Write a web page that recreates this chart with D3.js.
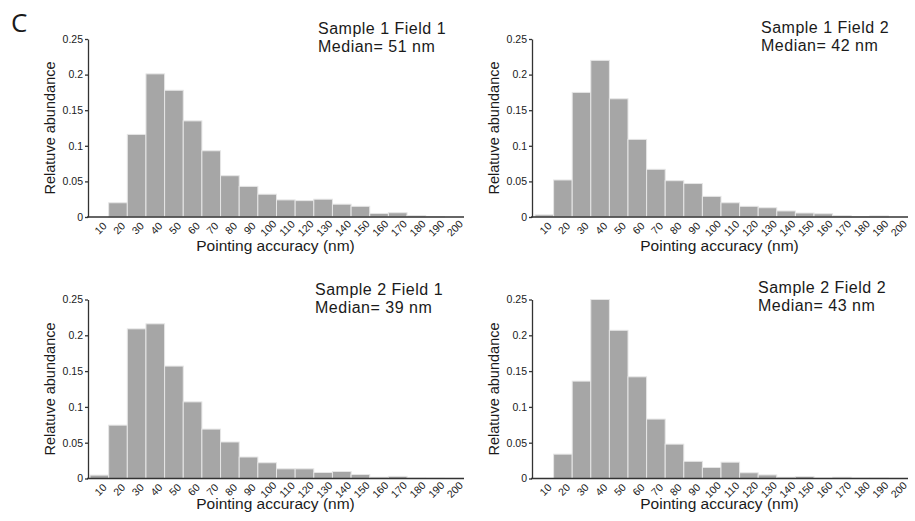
<!DOCTYPE html>
<meta charset="utf-8">
<head>
    <title>Pointing accuracy histograms</title>
    <script src="https://d3js.org/d3.v7.min.js"></script>
    <style>
        body { margin: 0; background: #ffffff; }
        text { font-family: "Liberation Sans", Arial, sans-serif; fill: #1a1a1a; }
    </style>
</head>
<body>
<div id="my_dataviz"></div>
<script>

// bin labels (nm) and tick labels of the y axis
var bins = ["10","20","30","40","50","60","70","80","90","100",
            "110","120","130","140","150","160","170","180","190","200"];
var yTicks = [0, 0.05, 0.1, 0.15, 0.2, 0.25];
var yTickLabels = ["0", "0.05", "0.1", "0.15", "0.2", "0.25"];

// relative abundance per bin
var s1f1 = [0, 0.020, 0.116, 0.201, 0.178, 0.135, 0.093, 0.058, 0.043, 0.032,
            0.024, 0.023, 0.025, 0.018, 0.015, 0.005, 0.006, 0.002, 0.0007, 0];
var s1f2 = [0.003, 0.052, 0.175, 0.220, 0.166, 0.109, 0.067, 0.051, 0.047, 0.029,
            0.020, 0.015, 0.013, 0.0085, 0.0056, 0.0046, 0.002, 0.0005, 0.0015, 0];
var s2f1 = [0.0047, 0.0745, 0.209, 0.216, 0.157, 0.107, 0.069, 0.051, 0.030, 0.022,
            0.0135, 0.0135, 0.0084, 0.0098, 0.0056, 0.0018, 0.003, 0.0005, 0.0003, 0];
var s2f2 = [0, 0.034, 0.136, 0.250, 0.207, 0.142, 0.083, 0.048, 0.024, 0.0154,
            0.0228, 0.008, 0.005, 0.0018, 0.0028, 0.0005, 0.0018, 0.0005, 0.0005, 0];

var titles = ["Sample 1 Field 1", "Sample 1 Field 2", "Sample 2 Field 1", "Sample 2 Field 2"];
var medians = ["Median= 51 nm", "Median= 42 nm", "Median= 39 nm", "Median= 43 nm"];

// panel geometry
var panels = [
    {data: s1f1, ax: 88,  x0: 90,  x1: 463, yTop: 39,    yBot: 217,   tx: 318, ty: 34, xl: 34},
    {data: s1f2, ax: 532, x0: 535, x1: 907, yTop: 39,    yBot: 217,   tx: 761, ty: 33, xl: 34},
    {data: s2f1, ax: 88,  x0: 90,  x1: 463, yTop: 299.5, yBot: 478.5, tx: 315, ty: 295, xl: 30},
    {data: s2f2, ax: 532, x0: 535, x1: 907, yTop: 299.5, yBot: 478.5, tx: 758, ty: 293, xl: 30}
];

var svg = d3.select("#my_dataviz")
    .append("svg")
    .attr("width", 915)
    .attr("height", 521);

// panel letter
svg.append("text")
    .attr("x", 11).attr("y", 32)
    .text("C")
    .style("font-family", "'Open Sans', sans-serif")
    .style("font-size", "26px");

panels.forEach(function(p, i) {
    var g = svg.append("g");

    var x = d3.scaleBand()
        .domain(bins)
        .range([p.x0, p.x1])
        .padding(0);

    var y = d3.scaleLinear()
        .domain([0, 0.25])
        .range([p.yBot, p.yTop]);

    // bars
    g.selectAll("rect")
        .data(p.data)
        .enter()
        .append("rect")
            .attr("x", function(d, j) { return x(bins[j]); })
            .attr("y", function(d) { return y(d); })
            .attr("width", x.bandwidth())
            .attr("height", function(d) { return p.yBot - y(d); })
            .style("fill", "#a6a6a6")
            .style("stroke", "#e6e6e6")
            .style("stroke-width", 1);

    // y axis
    var yAxis = g.append("g")
        .attr("transform", "translate(" + p.ax + ",0)")
        .call(d3.axisLeft(y)
            .tickValues(yTicks)
            .tickFormat(function(d, j) { return yTickLabels[j]; })
            .tickSize(3)
            .tickSizeOuter(0)
            .tickPadding(2));
    yAxis.selectAll("path, line").attr("stroke", "#333").attr("stroke-width", 1.3);
    yAxis.selectAll("text").style("font-size", "10.5px").attr("fill", "#333");

    // x axis
    var xAxis = g.append("g")
        .attr("transform", "translate(0," + p.yBot + ")")
        .call(d3.axisBottom(x).tickSize(0).tickSizeOuter(0));
    xAxis.select("path")
        .attr("d", "M" + (p.ax - 1) + ",0H" + (p.x1 + 1))
        .attr("stroke", "#333").attr("stroke-width", 1.5);
    xAxis.selectAll("text")
        .attr("y", 0).attr("dy", null)
        .attr("text-anchor", "middle")
        .attr("dominant-baseline", "central")
        .attr("transform", "translate(1,11) rotate(-45)")
        .style("font-size", "10.5px")
        .attr("fill", "#333");

    // axis labels
    g.append("text")
        .attr("text-anchor", "middle")
        .attr("x", (p.ax + p.x1) / 2)
        .attr("y", p.yBot + p.xl)
        .text("Pointing accuracy (nm)")
        .style("font-size", "15.5px");
    g.append("text")
        .attr("text-anchor", "middle")
        .attr("transform", "translate(" + (p.ax - 33) + "," + ((p.yTop + p.yBot) / 2) + ") rotate(-90)")
        .text("Relatuve abundance")
        .style("font-size", "14.5px");

    // title
    g.append("text")
        .attr("x", p.tx).attr("y", p.ty)
        .text(titles[i])
        .style("font-size", "16px")
        .style("letter-spacing", "0.5px");
    g.append("text")
        .attr("x", p.tx).attr("y", p.ty + 18)
        .text(medians[i])
        .style("font-size", "16px")
        .style("letter-spacing", "0.5px");
});
</script>
</body>
</html>
